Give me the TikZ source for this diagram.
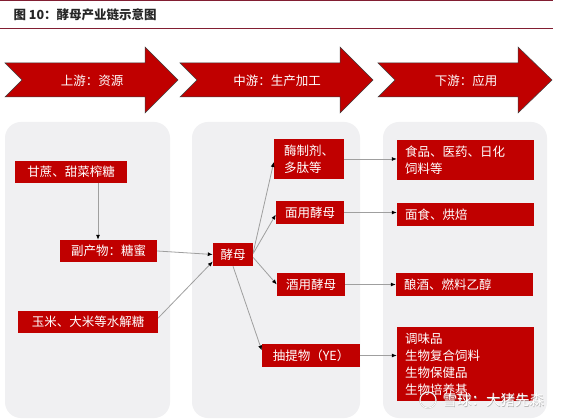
\documentclass[tikz,border=0pt]{standalone}
\usepackage{fontspec}
\setmainfont{Noto Sans CJK SC}
\usetikzlibrary{calc,arrows.meta}
\definecolor{boxred}{RGB}{192,0,0}
\definecolor{panelgray}{RGB}{240,240,242}
\definecolor{ruleline}{RGB}{130,30,50}
\begin{document}
\begin{tikzpicture}[x=1pt,y=-1pt,
  panel/.style={fill=panelgray,draw=none,rounded corners=16pt},
  rbox/.style={fill=boxred,text=white,inner sep=0pt,font=\fontsize{12.5}{17}\selectfont},
  lbox/.style={rbox,align=left,text width=#1},
  chev/.style={fill=boxred,draw=black!75,line width=0.5pt},
  conn/.style={draw=gray!75,line width=0.8pt,-{Latex[length=5pt,width=4pt,black]}},
  wmark/.style={font=\fontsize{14.5}{15}\selectfont,anchor=west},
]
\fill[white] (0,0) rectangle (572,419);
\useasboundingbox (0,0) rectangle (572,419);
% header
\draw[ruleline,line width=1pt] (0,1) -- (553,1);
\draw[ruleline,line width=0.8pt] (0,28.5) -- (553,28.5);
\node[anchor=west,font=\fontsize{12.5}{14}\selectfont\bfseries,text=black!85] (title) at (10,15) {图 10：酵母产业链示意图};
% chevrons
\draw[chev] (5,63) -- (145,63) -- (145,47) -- (178,80) -- (145,113) -- (145,97) -- (5,97) -- (22,80) -- cycle;
\draw[chev] (180,63) -- (340,63) -- (340,47) -- (373,80) -- (340,113) -- (340,97) -- (180,97) -- (197,80) -- cycle;
\draw[chev] (378,63) -- (518,63) -- (518,47) -- (552,80) -- (518,113) -- (518,97) -- (378,97) -- (395,80) -- cycle;
\node[text=white,font=\fontsize{12.5}{14}\selectfont] (s1) at (92,81) {上游：资源};
\node[text=white,font=\fontsize{12.5}{14}\selectfont] (s2) at (277,81) {中游：生产加工};
\node[text=white,font=\fontsize{12.5}{14}\selectfont] (s3) at (466,81) {下游：应用};
% panels
\fill[panel] (5,122) rectangle (170,418);
\fill[panel] (192,122) rectangle (360,418);
\fill[panel] (383,122) rectangle (547,418);
% upstream boxes
\node[rbox,minimum width=112pt,minimum height=22pt] (gz) at (71,172) {甘蔗、甜菜榨糖};
\node[rbox,minimum width=97pt,minimum height=22pt] (fcw) at (108.5,251) {副产物：糖蜜};
\node[rbox,minimum width=140pt,minimum height=22pt] (ym) at (88,322) {玉米、大米等水解糖};
% midstream boxes
\node[rbox,minimum width=40pt,minimum height=23pt] (jm) at (233,254.5) {酵母};
\node[rbox,minimum width=70pt,minimum height=40pt,align=left] (mzj) at (309,159) {酶制剂、\\多肽等};
\node[rbox,minimum width=68pt,minimum height=23pt] (my) at (310,212.5) {面用酵母};
\node[rbox,minimum width=68pt,minimum height=23pt] (jy) at (311,284.5) {酒用酵母};
\node[rbox,minimum width=98pt,minimum height=23pt] (cty) at (311,355.5) {抽提物（YE）};
% downstream boxes
\node[lbox=121pt,minimum height=40pt,inner xsep=8pt] (a1) at (465.5,160) {食品、医药、日化\\饲料等};
\node[lbox=121pt,minimum height=23pt,inner xsep=8pt] (a2) at (465.5,214.5) {面食、烘焙};
\node[lbox=121pt,minimum height=23pt,inner xsep=8pt] (a3) at (464.5,284.5) {酿酒、燃料乙醇};
\node[lbox=121pt,minimum height=74pt,inner xsep=8pt] (a4) at (465.5,364) {调味品\\生物复合饲料\\生物保健品\\生物培养基};
% connectors
\coordinate (gzs) at ($(gz.south)+(27,0)$);
\draw[conn] (gzs) -- (gzs |- fcw.north);
\draw[conn] (fcw.east) -- (jm.west);
\draw[conn] ([yshift=4pt]ym.east) -- ([yshift=-7pt]jm.west);
\draw[conn] ([yshift=2pt]jm.east) -- ([yshift=-3pt]mzj.west);
\draw[conn] ([yshift=1pt]jm.east) -- ([yshift=-2pt]my.west);
\draw[conn] ([yshift=-3pt]jm.east) -- (jy.west);
\draw[conn] (jm.south) -- ([yshift=5pt]cty.west);
\draw[conn] (mzj.east) -- (mzj.east -| a1.west);
\draw[conn] (my.east) -- (my.east -| a2.west);
\draw[conn] (jy.east) -- (jy.east -| a3.west);
\draw[conn] (cty.east) -- (cty.east -| a4.west);
% watermark
\node[wmark,text=gray!70,opacity=0.8] (wmsh) at (439.7,400.7) {雪球：大猪先森};
\node[wmark,text=white] (wm) at (439,400) {雪球：大猪先森};
\draw[gray!70,line width=1.4pt,opacity=0.8] (428,400) circle (8pt);
\draw[white,line width=0.8pt] (428,400) circle (8pt);
\end{tikzpicture}
\end{document}
